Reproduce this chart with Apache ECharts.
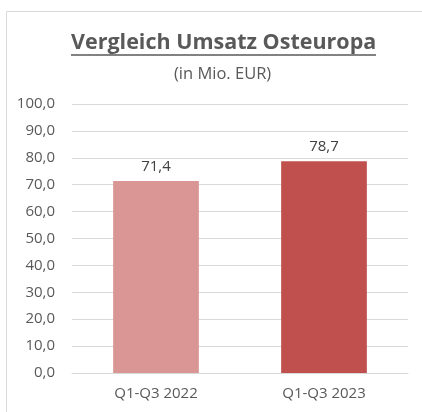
<!DOCTYPE html>
<html>
<head>
<meta charset="utf-8">
<script src="https://cdn.jsdelivr.net/npm/echarts@6/dist/echarts.min.js"></script>
<style>
  html, body { margin: 0; padding: 0; background: #fff; }
  #main { width: 422px; height: 412px; }
</style>
</head>
<body>
<div id="main"></div>
<script>
// Daten
var categories = ['Q1-Q3 2022', 'Q1-Q3 2023'];
var umsatz = [71.4, 78.7];
var barColors = ['#da9694', '#c0504d'];

var fmt = function (v) { return Number(v).toFixed(1).replace('.', ','); };

var myChart = echarts.init(document.getElementById('main'));
myChart.setOption({
  animation: false,
  textStyle: { fontFamily: 'Open Sans' },
  title: [{
    text: 'Vergleich Umsatz Osteuropa',
    left: 71,
    top: 32,
    padding: 0,
    textStyle: { fontSize: 21.5, fontWeight: 'bold', color: '#595959', fontFamily: 'Open Sans' }
  }, {
    text: '(in Mio. EUR)',
    left: 174,
    top: 66,
    padding: 0,
    textStyle: { fontSize: 16.5, fontWeight: 'normal', color: '#595959', fontFamily: 'Open Sans' }
  }],
  // Rahmen + Unterstreichung
  graphic: [{
    type: 'rect',
    shape: { x: 6.5, y: 11.5, width: 430, height: 420 },
    style: { fill: 'none', stroke: '#d9d9d9', lineWidth: 1 },
    silent: true
  }, {
    type: 'line',
    shape: { x1: 71, y1: 55, x2: 376, y2: 55 },
    style: { stroke: '#595959', lineWidth: 1.5 },
    silent: true
  }],
  grid: { left: 72, right: 14, top: 104, bottom: 39 },
  xAxis: {
    type: 'category',
    data: categories,
    axisTick: { show: false },
    axisLine: { lineStyle: { color: '#d9d9d9' } },
    axisLabel: { color: '#595959', fontSize: 15, margin: 13 }
  },
  yAxis: {
    type: 'value',
    min: 0,
    max: 100,
    interval: 10,
    axisLabel: { color: '#595959', fontSize: 15, margin: 17, formatter: fmt },
    splitLine: { lineStyle: { color: '#d9d9d9' } }
  },
  series: [{
    type: 'bar',
    barWidth: '51%',
    data: umsatz.map(function (v, i) {
      return { value: v, itemStyle: { color: barColors[i] } };
    }),
    label: {
      show: true,
      position: 'top',
      distance: 7,
      color: '#404040',
      fontSize: 15,
      formatter: function (p) { return fmt(p.value); }
    }
  }]
});
</script>
</body>
</html>
